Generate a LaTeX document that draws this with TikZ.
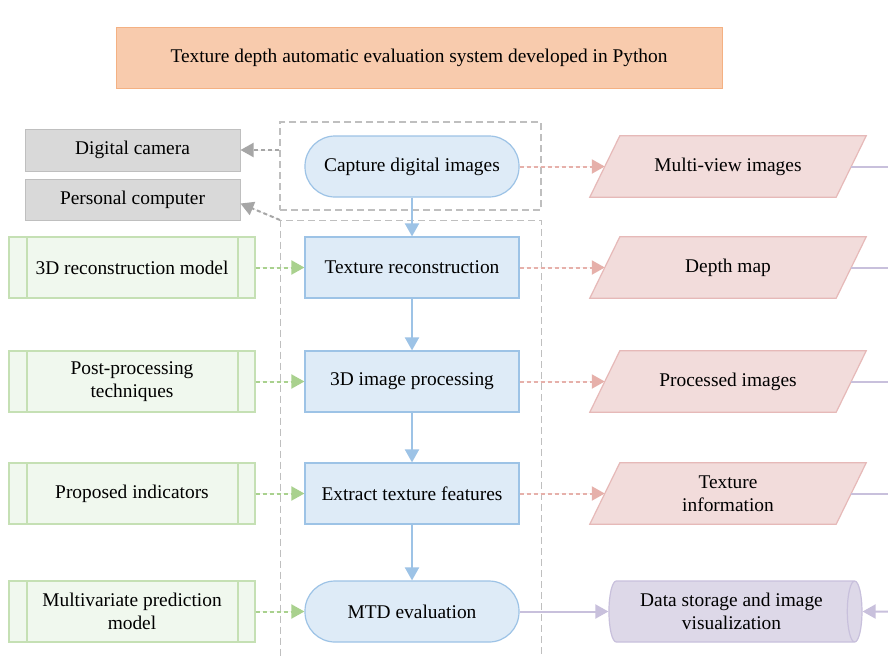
\documentclass[tikz,border=0pt]{standalone}
\usepackage{fontspec}
\setmainfont{Liberation Serif}
\usetikzlibrary{arrows.meta,shapes.geometric,backgrounds,calc}
\definecolor{bluefill}{HTML}{DEEBF7}
\definecolor{blueline}{HTML}{9DC3E6}
\definecolor{greenfill}{HTML}{F0F8EE}
\definecolor{greenline}{HTML}{C5E0B4}
\definecolor{greenarrow}{HTML}{A9D18E}
\definecolor{pinkfill}{HTML}{F2DCDB}
\definecolor{pinkline}{HTML}{E6B9B8}
\definecolor{pinkarrow}{HTML}{E6B0AA}
\definecolor{grayfill}{HTML}{D9D9D9}
\definecolor{grayline}{HTML}{BFBFBF}
\definecolor{grayarrow}{HTML}{A6A6A6}
\definecolor{purfill}{HTML}{DDD8E8}
\definecolor{purline}{HTML}{C8C0DC}
\definecolor{titlefill}{HTML}{F8CBAD}
\definecolor{titleline}{HTML}{F4B183}
\begin{document}
\begin{tikzpicture}[x=1pt,y=-1pt,
  every node/.style={font=\fontsize{19.4}{23}\selectfont, align=center, inner sep=0pt, text=black},
  titlebox/.style={draw=titleline, fill=titlefill, line width=1pt, minimum width=606pt, minimum height=61pt},
  graybox/.style={draw=grayline, fill=grayfill, line width=1pt, minimum width=215pt},
  bluebox/.style={draw=blueline, fill=bluefill, line width=1.2pt, minimum width=214pt, minimum height=61pt},
  bluepill/.style={bluebox, rounded corners=30pt},
  greenbox/.style={draw=greenline, fill=greenfill, line width=1.2pt, minimum width=246pt, minimum height=61pt,
    path picture={
      \draw[greenline, line width=1.2pt] ([xshift=18pt]path picture bounding box.north west) -- ([xshift=18pt]path picture bounding box.south west);
      \draw[greenline, line width=1.2pt] ([xshift=-17pt]path picture bounding box.north east) -- ([xshift=-17pt]path picture bounding box.south east);}},
  ptext/.style={minimum width=246pt, minimum height=61pt},
  pdraw/.style={draw=pinkline, fill=pinkfill, line width=1.2pt},
  cyl/.style={shape=cylinder, shape aspect=0.4, draw=purline, fill=purfill, line width=1.2pt, minimum width=61pt, minimum height=253pt},
  grp/.style={draw=grayline, line width=1.1pt, dash pattern=on 7pt off 4pt},
  tip/.style={-{Triangle[length=13pt,width=14pt]}},
  bluearr/.style={tip, draw=blueline, fill=blueline, line width=2pt},
  greenarr/.style={tip, draw=greenarrow, fill=greenarrow, line width=2pt, dash pattern=on 4pt off 3pt},
  pinkarr/.style={tip, draw=pinkarrow, fill=pinkarrow, line width=2pt, dash pattern=on 4pt off 3pt},
  grayarr/.style={tip, draw=grayarrow, fill=grayarrow, line width=2pt, dash pattern=on 4pt off 3pt},
  purarr/.style={tip, draw=purline, fill=purline, line width=2pt},
  purl/.style={draw=purline, line width=2pt}]
\useasboundingbox (0,0) rectangle (888,657);

\node[titlebox] (title) at (419,57.5) {Texture depth automatic evaluation system developed in Python};

\node[grp, minimum width=261pt, minimum height=88pt] (grpA) at (410.5,166) {};
\node[grp, minimum width=261pt, minimum height=480pt, anchor=north west] (grpB) at (280,220) {};

\node[graybox, minimum height=42pt] (cam) at (132.5,150) {Digital camera};
\node[graybox, minimum height=41pt] (pc) at (132.5,199.5) {Personal computer};

\node[bluepill] (b0) at (412,166.5) {Capture digital images};
\node[bluebox] (b1) at (412,267.5) {Texture reconstruction};
\node[bluebox] (b2) at (412,381.5) {3D image processing};
\node[bluebox] (b3) at (412,493.5) {Extract texture features};
\node[bluepill] (b4) at (412,611.5) {MTD evaluation};

\node[greenbox] (g1) at (132,267.5) {3D reconstruction model};
\node[greenbox] (g2) at (132,381.5) {Post-processing\\techniques};
\node[greenbox] (g3) at (132,493.5) {Proposed indicators};
\node[greenbox] (g4) at (132,611.5) {Multivariate prediction\\model};

\node[ptext] (p0) at (728,166.5) {Multi-view images};
\node[ptext] (p1) at (728,267.5) {Depth map};
\node[ptext] (p2) at (728,381.5) {Processed images};
\node[ptext] (p3) at (728,493.5) {Texture\\information};
\begin{scope}[on background layer]
\fill[white] (0,0) rectangle (888,657);
\foreach \n in {p0,p1,p2,p3}
  \draw[pdraw] ([xshift=-15pt]\n.south west) -- ([xshift=15pt]\n.north west) -- ([xshift=15pt]\n.north east) -- ([xshift=-15pt]\n.south east) -- cycle;
\end{scope}

\node[cyl] (cyl) at (731.5,611.5) {Data storage and image\\visualization};

\draw[bluearr] (b0) -- (b1);
\draw[bluearr] (b1) -- (b2);
\draw[bluearr] (b2) -- (b3);
\draw[bluearr] (b3) -- (b4);

\draw[greenarr] (g1) -- (b1);
\draw[greenarr] (g2) -- (b2);
\draw[greenarr] (g3) -- (b3);
\draw[greenarr] (g4) -- (b4);

\draw[pinkarr] (b0) -- (p0);
\draw[pinkarr] (b1) -- (p1);
\draw[pinkarr] (b2) -- (p2);
\draw[pinkarr] (b3) -- (p3);

\draw[grayarr] (grpA.west |- cam) -- (cam.east);
\draw[grayarr] (grpB.north west) -- ([yshift=-4pt]pc.east);

\coordinate (r0) at (895,166.5);
\coordinate (r1) at (895,267.5);
\coordinate (r2) at (895,381.5);
\coordinate (r3) at (895,493.5);
\coordinate (r4) at (895,611.5);
\draw[purl] (p0.east) -- (r0);
\draw[purl] (p1.east) -- (r1);
\draw[purl] (p2.east) -- (r2);
\draw[purl] (p3.east) -- (r3);
\draw[purarr] (b4) -- (cyl);
\draw[purarr] (r4) -- (cyl.east);
\end{tikzpicture}
\end{document}
